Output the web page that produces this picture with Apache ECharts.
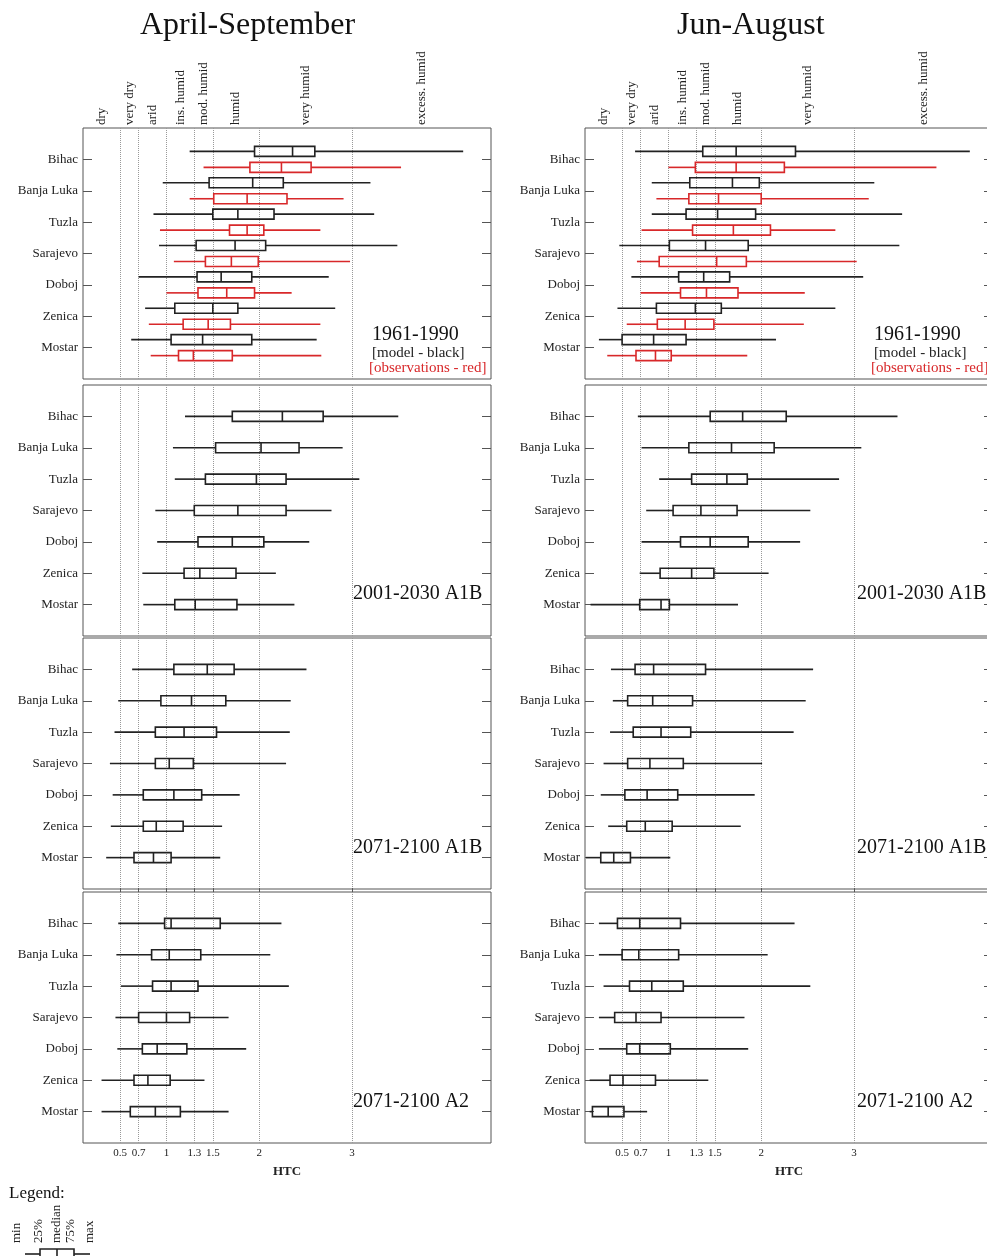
<!DOCTYPE html>
<html>
<head>
<meta charset="utf-8">
<script src="https://cdn.jsdelivr.net/npm/echarts@6/dist/echarts.min.js"></script>
<style>
  html, body { margin: 0; padding: 0; background: #fff; }
  #chart { width: 987px; height: 1256px; }
</style>
</head>
<body>
<div id="chart"></div>
<script>
const stations = ['Bihac', 'Banja Luka', 'Tuzla', 'Sarajevo', 'Doboj', 'Zenica', 'Mostar']
const classLabels = ['dry', 'very dry', 'arid', 'ins. humid', 'mod. humid', 'humid', 'very humid', 'excess. humid']
const classCenters = [0.3, 0.6, 0.85, 1.15, 1.4, 1.75, 2.5, 3.75]
const htcTicks = [0.5, 0.7, 1, 1.3, 1.5, 2, 3]
const htcMin = 0.1
const htcMax = 4.5
const seasons = ['April-September', 'Jun-August']
const periods = ['1961-1990', '2001-2030 A1B', '2071-2100 A1B', '2071-2100 A2']

// one row per station: [min, 25%, median, 75%, max]
const aprSepModel6190 = [
  [1.25, 1.95, 2.36, 2.60, 4.20],
  [0.96, 1.46, 1.93, 2.26, 3.20],
  [0.86, 1.50, 1.77, 2.16, 3.24],
  [0.92, 1.32, 1.74, 2.07, 3.49],
  [0.70, 1.33, 1.59, 1.92, 2.75],
  [0.77, 1.09, 1.50, 1.77, 2.82],
  [0.62, 1.05, 1.39, 1.92, 2.62],
]
const aprSepObs6190 = [
  [1.40, 1.90, 2.24, 2.56, 3.53],
  [1.25, 1.51, 1.87, 2.30, 2.91],
  [0.93, 1.68, 1.87, 2.05, 2.66],
  [1.08, 1.42, 1.70, 1.99, 2.98],
  [1.00, 1.34, 1.65, 1.95, 2.35],
  [0.81, 1.18, 1.45, 1.69, 2.66],
  [0.83, 1.13, 1.29, 1.71, 2.67],
]
const aprSep2001A1B = [
  [1.20, 1.71, 2.25, 2.69, 3.50],
  [1.07, 1.53, 2.02, 2.43, 2.90],
  [1.09, 1.42, 1.97, 2.29, 3.08],
  [0.88, 1.30, 1.77, 2.29, 2.78],
  [0.90, 1.34, 1.71, 2.05, 2.54],
  [0.74, 1.19, 1.36, 1.75, 2.18],
  [0.75, 1.09, 1.31, 1.76, 2.38],
]
const aprSep2071A1B = [
  [0.63, 1.08, 1.44, 1.73, 2.51],
  [0.48, 0.94, 1.27, 1.64, 2.34],
  [0.44, 0.88, 1.19, 1.54, 2.33],
  [0.39, 0.88, 1.03, 1.29, 2.29],
  [0.42, 0.75, 1.08, 1.38, 1.79],
  [0.40, 0.75, 0.89, 1.18, 1.60],
  [0.35, 0.65, 0.86, 1.05, 1.58],
]
const aprSep2071A2 = [
  [0.48, 0.98, 1.05, 1.58, 2.24],
  [0.46, 0.84, 1.03, 1.37, 2.12],
  [0.51, 0.85, 1.05, 1.34, 2.32],
  [0.45, 0.70, 1.00, 1.25, 1.67],
  [0.47, 0.74, 0.90, 1.22, 1.86],
  [0.30, 0.65, 0.80, 1.04, 1.41],
  [0.30, 0.61, 0.88, 1.15, 1.67],
]
const junAugModel6190 = [
  [0.64, 1.37, 1.73, 2.37, 4.25],
  [0.82, 1.23, 1.69, 1.98, 3.22],
  [0.82, 1.19, 1.53, 1.94, 3.52],
  [0.47, 1.01, 1.40, 1.86, 3.49],
  [0.60, 1.11, 1.38, 1.66, 3.10],
  [0.45, 0.87, 1.29, 1.57, 2.80],
  [0.25, 0.50, 0.84, 1.19, 2.16],
]
const junAugObs6190 = [
  [1.00, 1.29, 1.73, 2.25, 3.89],
  [0.87, 1.22, 1.54, 2.00, 3.16],
  [0.71, 1.26, 1.70, 2.10, 2.80],
  [0.66, 0.90, 1.52, 1.84, 3.03],
  [0.70, 1.13, 1.41, 1.75, 2.47],
  [0.55, 0.88, 1.18, 1.49, 2.46],
  [0.34, 0.65, 0.86, 1.03, 1.85],
]
const junAug2001A1B = [
  [0.67, 1.45, 1.80, 2.27, 3.47],
  [0.71, 1.22, 1.68, 2.14, 3.08],
  [0.90, 1.25, 1.63, 1.85, 2.84],
  [0.76, 1.05, 1.35, 1.74, 2.53],
  [0.71, 1.13, 1.45, 1.86, 2.42],
  [0.69, 0.91, 1.25, 1.49, 2.08],
  [0.16, 0.69, 0.92, 1.01, 1.75],
]
const junAug2071A1B = [
  [0.38, 0.64, 0.84, 1.40, 2.56],
  [0.40, 0.56, 0.83, 1.26, 2.48],
  [0.37, 0.62, 0.92, 1.24, 2.35],
  [0.30, 0.56, 0.80, 1.16, 2.01],
  [0.27, 0.53, 0.77, 1.10, 1.93],
  [0.35, 0.55, 0.75, 1.04, 1.78],
  [0.11, 0.27, 0.41, 0.59, 1.02],
]
const junAug2071A2 = [
  [0.25, 0.45, 0.69, 1.13, 2.36],
  [0.25, 0.50, 0.68, 1.11, 2.07],
  [0.30, 0.58, 0.82, 1.16, 2.53],
  [0.25, 0.42, 0.65, 0.92, 1.82],
  [0.25, 0.55, 0.69, 1.02, 1.86],
  [0.15, 0.37, 0.51, 0.86, 1.43],
  [0.15, 0.18, 0.35, 0.52, 0.77],
]

// legend glyph
const legendNames = ['min', '25%', 'median', '75%', 'max']
const legendBox = [15, 30, 47, 64, 80]
const legendLabelAt = [7, 29, 47, 61, 80]

const BLACK = '#222'
const RED = '#d8282a'
const FONT = "'Liberation Serif', 'DejaVu Serif', serif"

// layout
const colLeft = [83, 585]
const rowTop = [128, 385, 638, 892]
const panelW = 408
const panelH = 251

// [row][col] -> list of {data, color, offset}
const panels = [
  [
    [{ data: aprSepModel6190, color: BLACK, offset: -8 }, { data: aprSepObs6190, color: RED, offset: 8 }],
    [{ data: junAugModel6190, color: BLACK, offset: -8 }, { data: junAugObs6190, color: RED, offset: 8 }],
  ],
  [[{ data: aprSep2001A1B, color: BLACK, offset: 0 }], [{ data: junAug2001A1B, color: BLACK, offset: 0 }]],
  [[{ data: aprSep2071A1B, color: BLACK, offset: 0 }], [{ data: junAug2071A1B, color: BLACK, offset: 0 }]],
  [[{ data: aprSep2071A2, color: BLACK, offset: 0 }], [{ data: junAug2071A2, color: BLACK, offset: 0 }]],
]

function boxRenderer(color, offset) {
  return function (params, api) {
    const y = api.value(0)
    const p = [1, 2, 3, 4, 5].map(i => api.coord([api.value(i), y]))
    const cy = p[0][1] + offset
    const h = 10
    const st = { stroke: color, lineWidth: 1.6, fill: null }
    const seg = (x1, x2) => ({ type: 'line', shape: { x1, y1: cy, x2, y2: cy }, style: st })
    return {
      type: 'group',
      children: [
        seg(p[0][0], p[1][0]),
        seg(p[3][0], p[4][0]),
        { type: 'rect', shape: { x: p[1][0], y: cy - h / 2, width: p[3][0] - p[1][0], height: h }, style: st },
        { type: 'line', shape: { x1: p[2][0], y1: cy - h / 2, x2: p[2][0], y2: cy + h / 2 }, style: st },
      ],
    }
  }
}

const stationTicks = stations.map((s, i) => i + 1)
const grid = []
const xAxis = []
const yAxis = []
const series = []
const title = []

panels.forEach((rowPanels, row) => {
  rowPanels.forEach((list, col) => {
    const g = grid.length
    grid.push({
      left: colLeft[col], top: rowTop[row], width: panelW, height: panelH,
      show: true, borderColor: '#555', borderWidth: 1, outerBoundsMode: 'none',
    })
    const last = row === panels.length - 1
    xAxis.push({
      gridIndex: g, type: 'value', min: htcMin, max: htcMax, position: 'bottom',
      axisLine: { show: false },
      axisTick: { show: last, inside: true, length: 4, customValues: htcTicks, lineStyle: { color: '#555' } },
      axisLabel: {
        show: last, customValues: htcTicks, formatter: v => String(v),
        margin: 5, fontSize: 11, color: '#222', fontFamily: FONT,
      },
      splitLine: { show: true, lineStyle: { type: 'dotted', color: '#999', width: 1 } },
      name: last ? 'HTC' : '', nameLocation: 'middle', nameGap: 22,
      nameTextStyle: { fontSize: 13, fontWeight: 'bold', color: '#222', fontFamily: FONT },
    })
    const yBase = {
      gridIndex: g, type: 'value', min: 0, max: 8, inverse: true,
      axisLine: { show: false }, splitLine: { show: false },
      axisTick: { inside: true, length: 9, customValues: stationTicks, lineStyle: { color: '#555' } },
    }
    yAxis.push(Object.assign({}, yBase, {
      position: 'left',
      axisLabel: {
        customValues: stationTicks, formatter: v => stations[v - 1],
        margin: 5, fontSize: 13, color: '#222', fontFamily: FONT,
      },
    }))
    yAxis.push(Object.assign({}, yBase, { position: 'right', axisLabel: { show: false } }))

    list.forEach(s => {
      series.push({
        type: 'custom',
        xAxisIndex: g,
        yAxisIndex: 2 * g,
        renderItem: boxRenderer(s.color, s.offset),
        encode: { x: [1, 2, 3, 4, 5], y: 0 },
        data: s.data.map((r, i) => [i + 1].concat(r)),
        silent: true,
      })
    })
  })
})

// classification labels above the top panels
;[0, 1].forEach(g => {
  xAxis.push({
    gridIndex: g, type: 'value', min: htcMin, max: htcMax, position: 'top',
    axisLine: { show: false }, axisTick: { show: false }, splitLine: { show: false },
    axisLabel: {
      customValues: classCenters, formatter: v => classLabels[classCenters.indexOf(v)],
      rotate: 90, margin: 3, fontSize: 13, color: '#222', fontFamily: FONT,
    },
  })
})

// legend glyph grid
const lg = grid.length
grid.push({ left: 10, top: 1244, width: 85, height: 20, show: false, outerBoundsMode: 'none' })
xAxis.push({
  gridIndex: lg, type: 'value', min: 0, max: 85, position: 'top',
  axisLine: { show: false }, axisTick: { show: false }, splitLine: { show: false },
  axisLabel: {
    customValues: legendLabelAt, formatter: v => legendNames[legendLabelAt.indexOf(v)],
    rotate: 90, margin: 1, fontSize: 13, color: '#222', fontFamily: FONT,
  },
})
yAxis.push({ gridIndex: lg, type: 'value', min: 0, max: 2, show: false })
series.push({
  type: 'custom', xAxisIndex: xAxis.length - 1, yAxisIndex: yAxis.length - 1,
  renderItem: boxRenderer(BLACK, 0), encode: { x: [1, 2, 3, 4, 5], y: 0 },
  data: [[1].concat(legendBox)], silent: true,
})

// titles and panel annotations
const seasonLeft = [140, 677]
seasons.forEach((s, i) => {
  title.push({ text: s, left: seasonLeft[i], top: 10, padding: 0,
    textStyle: { fontSize: 32, fontWeight: 'normal', color: '#111', fontFamily: FONT } })
})
const periodTop = [325, 584, 838, 1092]
periods.forEach((p, row) => {
  ;[0, 1].forEach(col => {
    const left = row === 0 ? [372, 874][col] : [353, 857][col]
    title.push({ text: p, left, top: periodTop[row], padding: 0,
      textStyle: { fontSize: 20, fontWeight: 'normal', color: '#111', fontFamily: FONT } })
  })
})
;[372, 874].forEach(left => {
  title.push({ text: '[model - black]', left, top: 346, padding: 0,
    textStyle: { fontSize: 15, fontWeight: 'normal', color: '#222', fontFamily: FONT } })
  title.push({ text: '[observations - red]', left: left - 3, top: 361, padding: 0,
    textStyle: { fontSize: 15, fontWeight: 'normal', color: RED, fontFamily: FONT } })
})
title.push({ text: 'Legend:', left: 9, top: 1185, padding: 0,
  textStyle: { fontSize: 17, fontWeight: 'normal', color: '#111', fontFamily: FONT } })

const chart = echarts.init(document.getElementById('chart'), null, { renderer: 'canvas' })
chart.setOption({
  animation: false,
  backgroundColor: '#fff',
  textStyle: { fontFamily: FONT },
  title,
  grid,
  xAxis,
  yAxis,
  series,
})
window.addEventListener('resize', () => chart.resize())
</script>
</body>
</html>
